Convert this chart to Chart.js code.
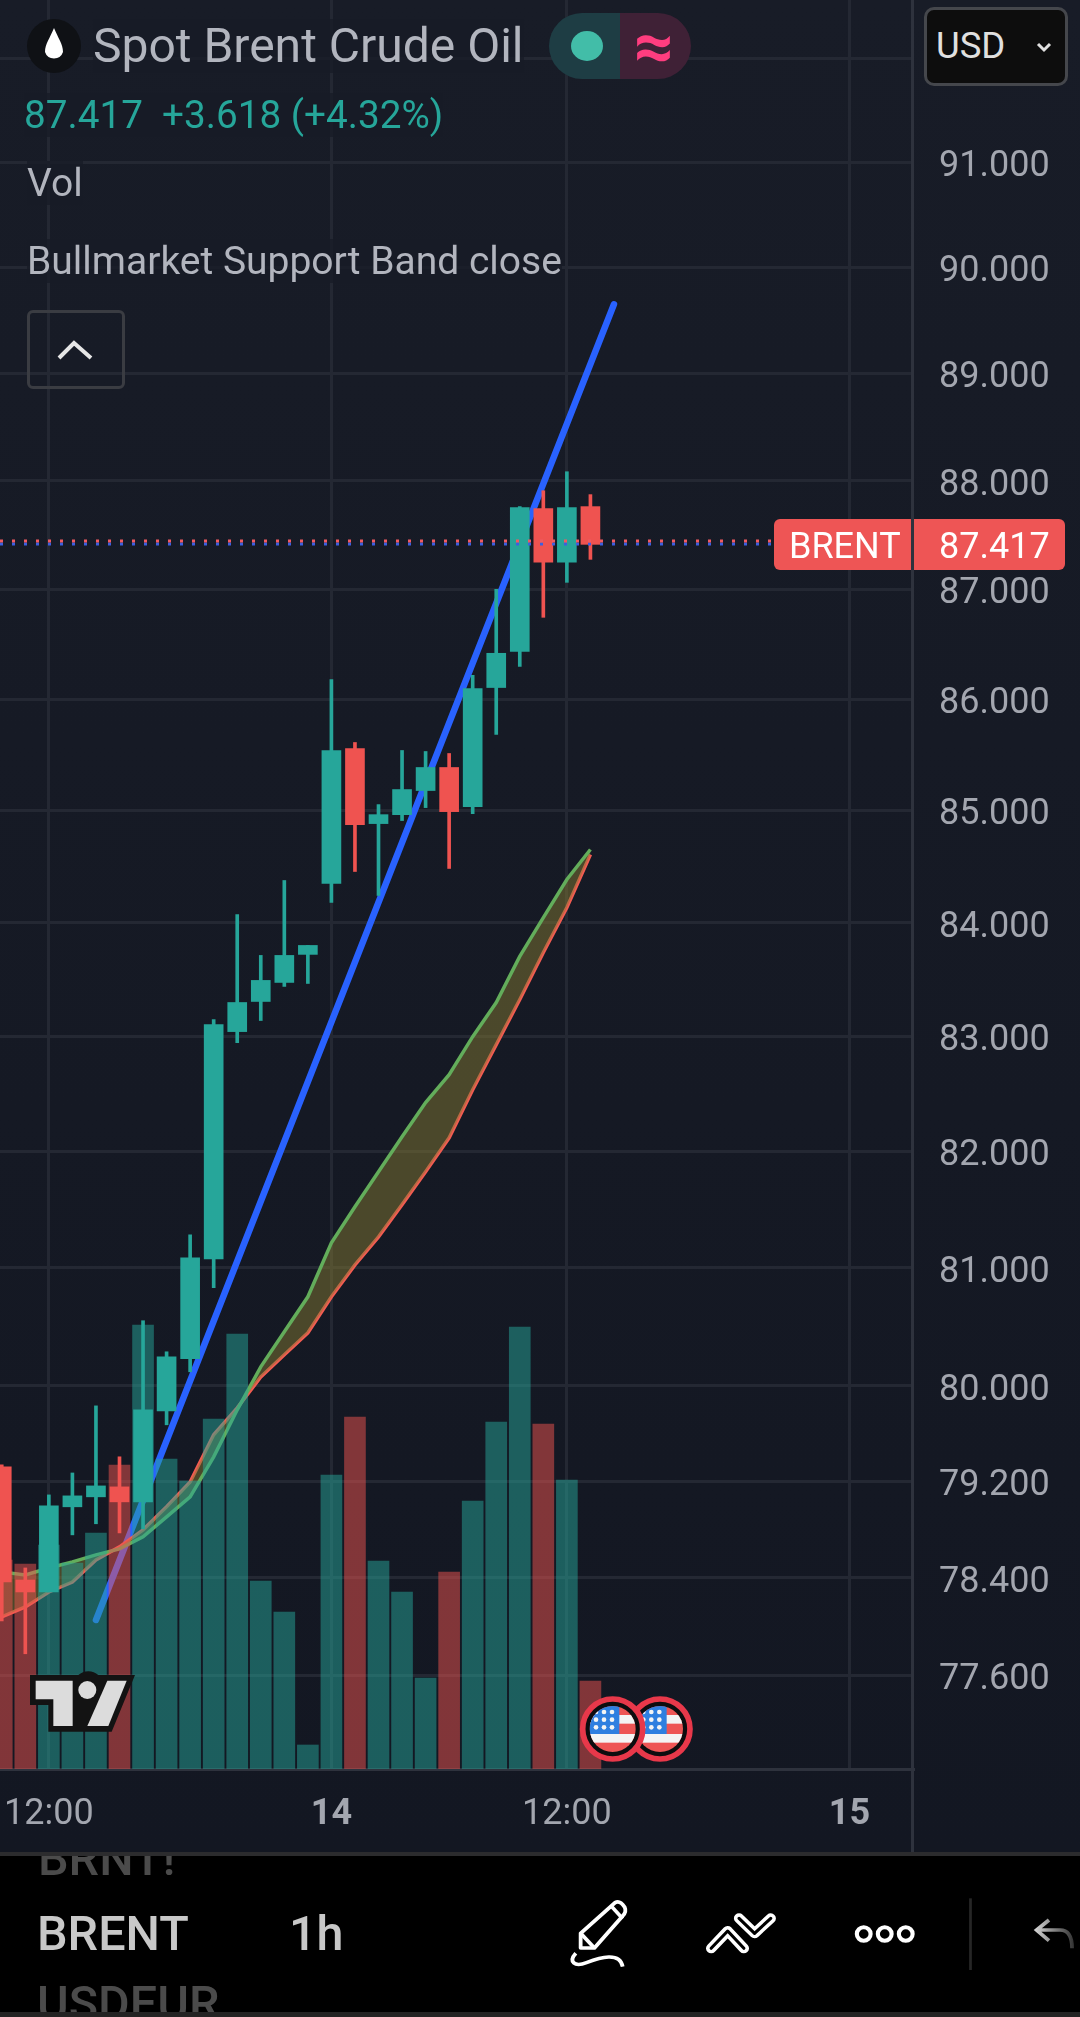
<!DOCTYPE html>
<html>
<head>
<meta charset="utf-8">
<title>Spot Brent Crude Oil</title>
<script src="https://cdn.jsdelivr.net/npm/chart.js@4"></script>
<style>
html, body { margin: 0; padding: 0; background: #000; }
body { width: 1080px; height: 2017px; position: relative; overflow: hidden; font-family: Roboto, sans-serif; }
#chart-wrap { position: absolute; left: 0; top: 0; width: 1080px; height: 1852px; background: linear-gradient(#181c27, #131722); }
canvas { display: block; }
.abs { position: absolute; white-space: nowrap; }
.row { color: #b2b5be; background: rgba(24, 28, 39, 0.8); }
svg { position: absolute; overflow: visible; }
</style>
</head>
<body>
<div id="chart-wrap"><canvas id="brent" width="1080" height="1852"></canvas></div>

<!-- legend -->
<svg style="left:27px;top:19px" width="54" height="54" viewBox="0 0 54 54">
  <circle cx="27" cy="27" r="27" fill="#0f1115"/>
  <path d="M27 9 C23 19 18 25 18 33 A9.5 9.5 0 0 0 36 33 C36 25 31 19 27 9 Z" fill="#fff"/>
</svg>
<div class="abs row" style="left:93px;top:19px;font-size:48px;line-height:54px">Spot Brent Crude Oil</div>
<div class="abs" style="left:549px;top:13px;width:71px;height:66px;background:#1e3d44;border-radius:33px 0 0 33px"></div>
<div class="abs" style="left:620px;top:13px;width:71px;height:66px;background:#3f2136;border-radius:0 33px 33px 0"></div>
<div class="abs" style="left:571px;top:31px;width:32px;height:30px;background:#42bda8;border-radius:50%"></div>
<div class="abs" style="left:629px;top:13px;width:50px;text-align:center;font-size:70px;line-height:66px;font-weight:700;color:#ff3d7f">≈</div>
<div class="abs row" style="left:24px;top:93px;font-size:38.7px;line-height:44px;color:#26a69a">87.417&nbsp; +3.618 (+4.32%)</div>
<div class="abs row" style="left:27px;top:161px;font-size:39px;line-height:44px">Vol</div>
<div class="abs row" style="left:27px;top:239px;font-size:39px;line-height:44px">Bullmarket Support Band close</div>
<div class="abs" style="left:27px;top:310px;width:92px;height:73px;border:3px solid #3a3c42;border-radius:6px"></div>
<svg style="left:27px;top:310px" width="95" height="77" viewBox="0 0 95 77">
  <path d="M32 48 L47 33 L64 48" fill="none" stroke="#e6e6e6" stroke-width="4"/>
</svg>

<!-- currency box -->
<div class="abs" style="left:924px;top:7px;width:138px;height:73px;background:#0d0d0d;border:3px solid #45474c;border-radius:10px"></div>
<div class="abs" style="left:936px;top:23px;font-size:36.5px;line-height:46px;color:#e0e0e0">USD</div>
<svg style="left:1035px;top:41px" width="20" height="14" viewBox="0 0 20 14">
  <path d="M3 3 L9 9 L15 3" fill="none" stroke="#e0e0e0" stroke-width="3"/>
</svg>

<!-- axis dividers -->
<div class="abs" style="left:911px;top:0;width:3px;height:1852px;background:#2e323d"></div>

<!-- last price label -->
<div class="abs" style="left:774px;top:519px;width:291px;height:51px;background:#ee5555;border-radius:6px"></div>
<div class="abs" style="left:911px;top:519px;width:3px;height:51px;background:#2e323d"></div>
<div class="abs" style="left:789px;top:520px;font-size:36px;line-height:52px;color:#fff">BRENT</div>
<div class="abs" style="left:939px;top:520px;font-size:36px;line-height:52px;color:#fff">87.417</div>

<!-- watermark -->
<svg style="left:0;top:1440px" width="200" height="330" viewBox="0 0 600 990">
  <path d="M90 705 H235 A45 45 0 0 1 295 705 H405 L335 875 H145 V795 H90 Z" fill="#131313"/>
  <path d="M107 722 H218 V858 H160 V778 H107 Z" fill="#dcdcdc"/>
  <circle cx="262" cy="750" r="27" fill="#dcdcdc"/>
  <path d="M322 722 H380 L325 858 H262 Z" fill="#dcdcdc"/>
</svg>

<!-- economic event flags -->
<svg style="left:560px;top:1660px" width="160" height="120" viewBox="0 0 480 360">
  <defs>
    <clipPath id="flag-clip"><circle cx="0" cy="0" r="69"/></clipPath>
    <g id="flag">
      <circle r="90" fill="#0d0d0f" stroke="#e8384a" stroke-width="17"/>
      <g clip-path="url(#flag-clip)">
        <rect x="-70" y="-70" width="140" height="140" fill="#ee5555"/>
        <rect x="-70" y="-42" width="140" height="26" fill="#f4f4f4"/>
        <rect x="-70" y="15" width="140" height="26" fill="#f4f4f4"/>
        <rect x="-70" y="-72" width="90" height="87" fill="#2f7fe0"/>
        <g fill="#f4f4f4">
          <circle cx="-50" cy="-51" r="7"/><circle cx="-26" cy="-51" r="7"/><circle cx="-2" cy="-51" r="7"/>
          <circle cx="-50" cy="-28" r="7"/><circle cx="-26" cy="-28" r="7"/><circle cx="-2" cy="-28" r="7"/>
          <circle cx="-50" cy="-5" r="7"/><circle cx="-26" cy="-5" r="7"/><circle cx="-2" cy="-5" r="7"/>
        </g>
      </g>
    </g>
  </defs>
  <use href="#flag" x="300" y="207"/>
  <use href="#flag" x="158" y="207"/>
</svg>

<!-- bottom toolbar -->
<div class="abs" style="left:0;top:1852px;width:1080px;height:4px;background:#2c2c2e"></div>
<div class="abs" style="left:0;top:1856px;width:1080px;height:156px;overflow:hidden;background:#000">
  <div class="abs" style="left:38px;top:-24px;font-size:48.5px;line-height:54px;font-weight:500;color:#4b4b4b">BRNT!</div>
  <div class="abs" style="left:37px;top:51px;font-size:48.5px;line-height:54px;font-weight:500;color:#c8c8c8">BRENT</div>
  <div class="abs" style="left:289px;top:51px;font-size:48.5px;line-height:54px;font-weight:500;color:#c8c8c8">1h</div>
  <div class="abs" style="left:37px;top:121px;font-size:48.5px;line-height:54px;font-weight:500;color:#4b4b4b">USDEUR</div>
</div>
<div class="abs" style="left:0;top:2012px;width:1080px;height:5px;background:#232323"></div>
<svg style="left:540px;top:1880px" width="540" height="110" viewBox="0 0 1568 330" preserveAspectRatio="none">
  <defs>
    <linearGradient id="undo-fade" x1="1440" y1="0" x2="1550" y2="0" gradientUnits="userSpaceOnUse">
      <stop offset="0" stop-color="#d0d0d0"/><stop offset="1" stop-color="#333"/>
    </linearGradient>
  </defs>
  <g fill="none" stroke="#fff" stroke-width="11" stroke-linejoin="round">
    <path d="M118 160 L218 68 Q232 60 246 82 Q252 96 240 108 L158 204 H118 Z"/>
    <path d="M205 76 L240 116"/>
    <path d="M118 160 L158 204"/>
    <path d="M104 220 C82 245 100 262 135 248 C175 232 232 215 240 260"/>
  </g>
  <g fill="none" stroke-linecap="round" stroke-linejoin="round">
    <path d="M497 205 L545 153 L592 205" stroke="#fff" stroke-width="30"/>
    <path d="M497 205 L545 153 L592 205" stroke="#000" stroke-width="9"/>
    <path d="M578 115 L623 160 L670 115" stroke="#fff" stroke-width="30"/>
    <path d="M578 115 L623 160 L670 115" stroke="#000" stroke-width="9"/>
  </g>
  <g fill="none" stroke="#fff" stroke-width="12">
    <circle cx="940" cy="162" r="20"/><circle cx="1001" cy="162" r="20"/><circle cx="1062" cy="162" r="20"/>
  </g>
  <path d="M1250 55 V270" stroke="#262626" stroke-width="8"/>
  <path d="M1478 120 L1442 150 L1478 182 M1442 150 H1510 Q1545 150 1545 205" fill="none" stroke="url(#undo-fade)" stroke-width="11"/>
</svg>

<script>
// ============================== CANDLES, one entry per hourly bar ==============================
const opens  = [79.321, 78.382, 78.283, 78.988, 79.071, 79.154, 79.029, 79.790, 80.229, 81.077, 83.041, 83.305, 83.472, 83.719,
                84.347, 85.554, 84.880, 84.960, 85.176, 85.383, 85.032, 86.105, 86.434, 87.743, 87.248, 87.761];
const highs  = [79.338, 78.481, 79.087, 79.270, 79.832, 79.405, 80.551, 80.288, 81.283, 83.146, 84.071, 83.710, 84.373, 83.798,
                86.176, 85.608, 85.050, 85.536, 85.527, 85.509, 86.215, 87.000, 87.761, 87.908, 88.084, 87.872];
const lows   = [78.044, 77.775, 78.283, 78.755, 78.847, 78.771, 78.805, 79.673, 80.119, 80.831, 82.945, 83.138, 83.437, 83.463,
                84.178, 84.453, 84.240, 84.907, 85.023, 84.480, 84.969, 85.680, 86.297, 86.744, 87.064, 87.275];
const closes = [78.365, 78.283, 78.996, 79.079, 79.162, 79.029, 79.799, 80.246, 81.086, 83.102, 83.296, 83.490, 83.710, 83.798,
                85.536, 84.871, 84.960, 85.185, 85.383, 84.987, 86.096, 86.416, 87.752, 87.248, 87.752, 87.413];
const volumes = [20.9, 20.5, 22.4, 20.6, 23.6, 30.4, 44.4, 31.0, 28.8, 35.0, 43.5, 18.8, 15.7, 2.4,
                 29.4, 35.2, 20.8, 17.7, 9.1, 19.7, 26.8, 34.7, 44.2, 34.5, 28.9, 8.8];

// Bull market support band, the two moving averages
const bandGreen = [78.448, 78.423, 78.481, 78.531, 78.589, 78.639, 78.739, 78.904, 79.071, 79.405, 79.799, 80.161, 80.458, 80.754,
                   81.215, 81.524, 81.825, 82.127, 82.423, 82.666, 82.997, 83.296, 83.701, 84.044, 84.382, 84.649];
const bandRed   = [78.078, 78.160, 78.283, 78.365, 78.548, 78.656, 78.797, 78.988, 79.195, 79.589, 79.816, 80.076, 80.263, 80.449,
                   80.754, 81.026, 81.266, 81.542, 81.825, 82.118, 82.534, 82.927, 83.322, 83.736, 84.133, 84.604];

// Hand drawn trend line, two anchors
const trendBars = [4, 26];
const trendPrices = [78.052, 89.651];

// Dotted price lines
const priceLineBars = [-0.075, 32.9];
const priceRed = 87.445;
const priceBlue = 87.417;

// Axis ticks
const priceTicks = [77.6, 78.4, 79.2, 80, 81, 82, 83, 84, 85, 86, 87, 88, 89, 90, 91, 92];
const timeTickBars = [2, 14, 24, 36];
const timeTickLabels = ['12:00', '14', '12:00', '15'];
const boldTimeTicks = ['14', '15'];

// Visible range
const barMin = -0.075, barMax = 38.7;
const priceMin = 76.837, priceMax = 92.57;
const volumeMax = 176.9;

const upColor = '#26a69a';
const downColor = '#ef5350';
const upVolume = 'rgba(38, 166, 154, 0.5)';
const downVolume = 'rgba(239, 83, 80, 0.5)';
const gridColor = '#242833';

const barIndexes = opens.map((o, i) => i);
const candleColors = barIndexes.map(i => closes[i] >= opens[i] ? upColor : downColor);
const volumeColors = barIndexes.map(i => closes[i] >= opens[i] ? upVolume : downVolume);

// Puts a series on the numeric bar axis
function toPoints(values){
    return values.map((v, i) => ({x: i, y: v}));
}

// Stops the first and last tick labels from pushing the plot away from the page edge
function clearScalePadding(scale){
    scale.paddingLeft = 0;
    scale.paddingRight = 0;
    scale.paddingTop = 0;
    scale.paddingBottom = 0;
}

let ctx = document.getElementById('brent').getContext('2d');
let chart = new Chart(ctx, {
    data: {
        datasets: [
            {type: 'line', label: 'Trend', order: 6, data: trendBars.map((b, i) => ({x: b, y: trendPrices[i]})),
             borderColor: '#2962ff', borderWidth: 6.5, borderCapStyle: 'round', pointRadius: 0, tension: 0, yAxisID: 'y'},
            {type: 'line', label: 'Band green', order: 5, data: toPoints(bandGreen), borderColor: '#63ad5b', borderWidth: 3.5,
             pointRadius: 0, tension: 0, yAxisID: 'y', fill: {target: '+1', above: 'rgba(130, 120, 50, 0.5)', below: 'rgba(130, 120, 50, 0.5)'}},
            {type: 'line', label: 'Band red', order: 5, data: toPoints(bandRed), borderColor: '#f25c52', borderWidth: 3.5,
             pointRadius: 0, tension: 0, yAxisID: 'y'},
            {type: 'bar', label: 'Vol', order: 4, data: toPoints(volumes), backgroundColor: volumeColors, barThickness: 21, grouped: false, yAxisID: 'y2'},
            {type: 'bar', label: 'Wick', order: 3, data: barIndexes.map(i => ({x: i, y: [lows[i], highs[i]]})), backgroundColor: candleColors, barThickness: 3, grouped: false, yAxisID: 'y'},
            {type: 'bar', label: 'Body', order: 2, data: barIndexes.map(i => ({x: i, y: [opens[i], closes[i]]})), backgroundColor: candleColors, barThickness: 19, grouped: false, yAxisID: 'y'},
            {type: 'line', label: 'Price red', order: 1, data: priceLineBars.map(b => ({x: b, y: priceRed})), borderColor: '#ef5a62', borderWidth: 3, borderDash: [3, 9], pointRadius: 0, yAxisID: 'y'},
            {type: 'line', label: 'Price blue', order: 1, data: priceLineBars.map(b => ({x: b, y: priceBlue})), borderColor: '#3d5fe0', borderWidth: 3, borderDash: [3, 9], pointRadius: 0, yAxisID: 'y'}
        ]
    },
    options: {
        responsive: false,
        animation: false,
        devicePixelRatio: 1,
        layout: {padding: 0},
        plugins: {legend: {display: false}, tooltip: {enabled: false}},
        scales: {
            x: {
                type: 'linear',
                bounds: 'data', // keep min and max, the default rounds them out to the generated ticks
                offset: false,
                min: barMin,
                max: barMax,
                afterBuildTicks: scale => { scale.ticks = timeTickBars.map(v => ({value: v})); },
                afterFit: scale => { scale.height = 83; clearScalePadding(scale); },
                grid: {color: gridColor, lineWidth: 3, drawTicks: false, offset: false},
                border: {color: '#2e323d', width: 3},
                ticks: {
                    autoSkip: false,
                    maxRotation: 0,
                    padding: 24,
                    color: '#a3a6af',
                    font: c => ({family: 'Roboto', size: 36, weight: c.tick && boldTimeTicks.includes(c.tick.label) ? 'bold' : 'normal'}),
                    callback: value => timeTickLabels[timeTickBars.indexOf(value)]
                }
            },
            y: {
                type: 'logarithmic',
                bounds: 'data',
                position: 'right',
                min: priceMin,
                max: priceMax,
                afterBuildTicks: scale => { scale.ticks = priceTicks.map(v => ({value: v})); },
                afterFit: scale => { scale.width = 167; clearScalePadding(scale); },
                grid: {color: gridColor, lineWidth: 3, drawTicks: false},
                border: {display: false},
                ticks: {
                    autoSkip: false,
                    padding: 26,
                    labelOffset: 5,
                    color: '#a3a6af',
                    font: {family: 'Roboto', size: 36},
                    callback: value => Number(value).toFixed(3)
                }
            },
            y2: {type: 'linear', display: false, min: 0, max: volumeMax}
        }
    }
});
</script>
</body>
</html>
